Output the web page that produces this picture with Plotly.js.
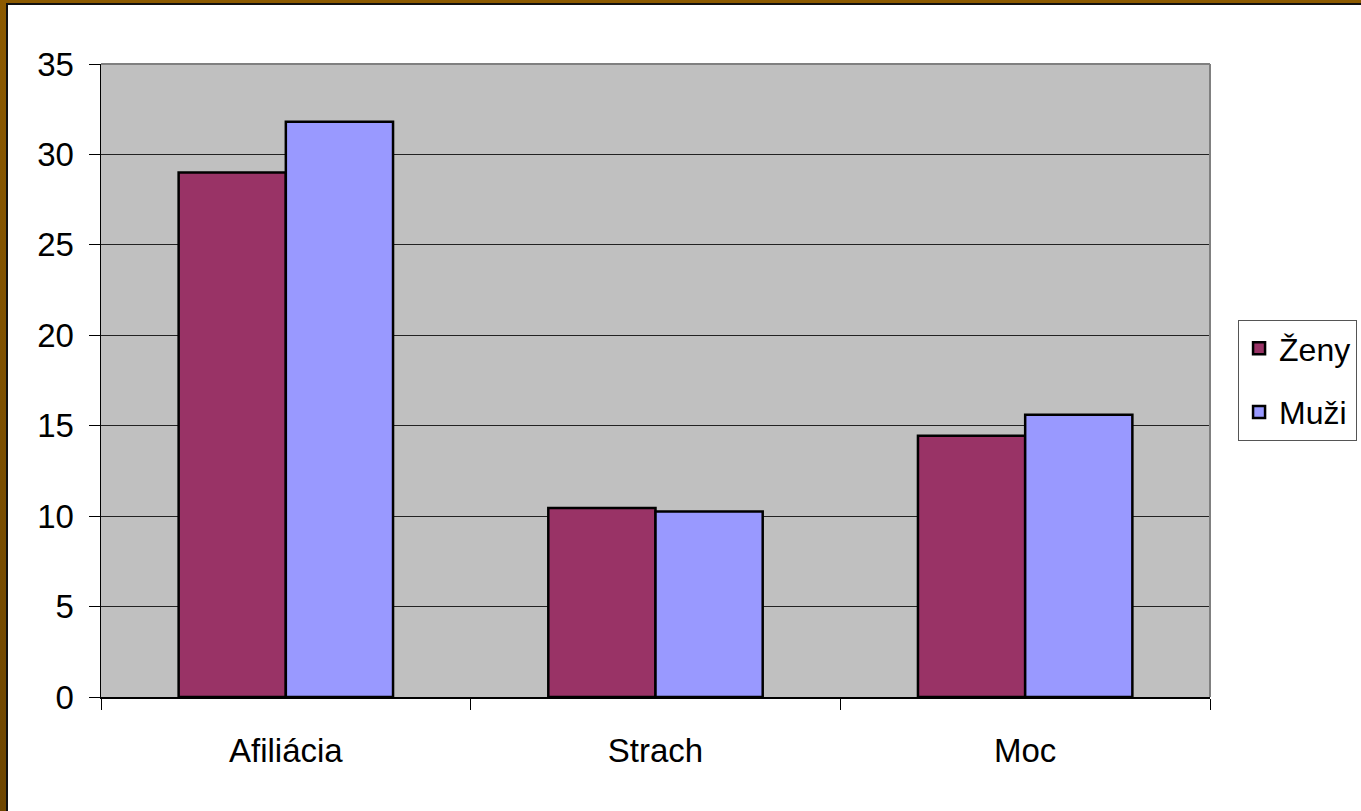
<!DOCTYPE html>
<html>
<head>
<meta charset="utf-8">
<script src="https://cdn.plot.ly/plotly-3.0.1.min.js"></script>
<style>
html,body{margin:0;padding:0;background:#fff;overflow:hidden;}
#wrap{position:relative;width:1361px;height:811px;}
#chart{position:absolute;left:0;top:0;width:1361px;height:811px;}
#bt{position:absolute;left:0;top:0;width:1361px;height:3px;background:#8C5A00;}
#bt2{position:absolute;left:6px;top:3px;width:1355px;height:2px;background:#111;}
#bl{position:absolute;left:0;top:0;width:6px;height:811px;background:linear-gradient(#8C5A00,#6E4600);}
#bl2{position:absolute;left:6px;top:3px;width:2px;height:808px;background:#111;}
</style>
</head>
<body>
<div id="wrap">
<div id="chart"></div>
<div id="bt"></div><div id="bt2"></div><div id="bl"></div><div id="bl2"></div>
</div>
<script>
var categories = ["Afiliácia", "Strach", "Moc"];
var zenyValues = [29.0, 10.45, 14.45];
var muziValues = [31.8, 10.25, 15.6];
var seriesNames = ["Ženy", "Muži"];
var yTickValues = [0, 5, 10, 15, 20, 25, 30, 35];

var font = "Liberation Sans, Arial, sans-serif";

var traces = [
  {type: "bar", name: seriesNames[0], x: categories, y: zenyValues, legendgroup: "a",
   marker: {color: "#993366", line: {color: "#000", width: 2.5}}, hoverinfo: "skip"},
  {type: "bar", name: seriesNames[1], x: categories, y: muziValues, legendgroup: "b",
   marker: {color: "#9999FF", line: {color: "#000", width: 2.5}}, hoverinfo: "skip"}
];

var layout = {
  width: 1361, height: 811,
  margin: {l: 101, r: 151, t: 64, b: 114, autoexpand: false},
  paper_bgcolor: "#fff",
  plot_bgcolor: "#C0C0C0",
  font: {family: font, size: 33, color: "#000"},
  barmode: "group",
  bargap: 0.42,
  bargroupgap: 0,
  showlegend: true,
  legend: {x: 1.0253, xanchor: "left", y: 0.5, yanchor: "middle",
           bgcolor: "#fff", bordercolor: "#555", borderwidth: 1,
           font: {family: font, size: 32, color: "#000"},
           tracegroupgap: 19, traceorder: "grouped", itemwidth: 30},
  xaxis: {type: "category", showline: true, linecolor: "#000", linewidth: 1.5,
          ticks: "outside", tickson: "boundaries", ticklen: 11, tickcolor: "#000", tickwidth: 1,
          showgrid: false, tickfont: {family: font, size: 33}, ticklabelstandoff: 24, fixedrange: true},
  yaxis: {range: [0, 35], tickvals: yTickValues, showline: true, linecolor: "#000", linewidth: 1.5,
          ticks: "outside", ticklen: 11, tickcolor: "#000", tickwidth: 1,
          showgrid: true, gridcolor: "#222", gridwidth: 1, zeroline: false,
          tickfont: {family: font, size: 33}, ticklabelstandoff: 8, fixedrange: true},
  shapes: [
    {type: "line", xref: "paper", yref: "paper", x0: 0, x1: 1, y0: 1, y1: 1, line: {color: "#808080", width: 2}},
    {type: "line", xref: "paper", yref: "paper", x0: 1, x1: 1, y0: 0, y1: 1, line: {color: "#808080", width: 2}}
  ]
};

Plotly.newPlot("chart", traces, layout, {staticPlot: true, displayModeBar: false});
</script>
</body>
</html>
